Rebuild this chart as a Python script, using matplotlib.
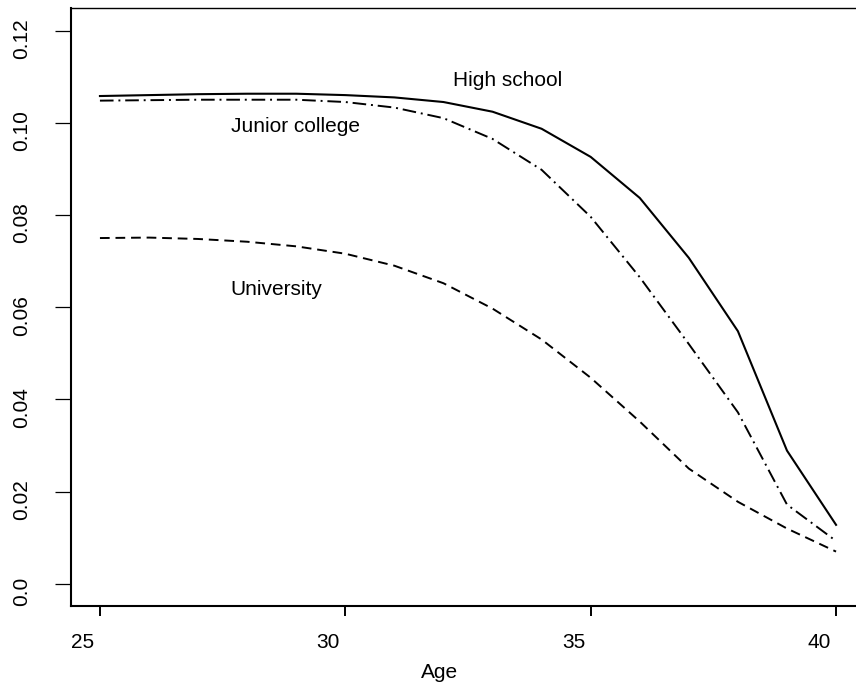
import matplotlib
matplotlib.use('Agg')
import matplotlib.pyplot as plt
from matplotlib.transforms import ScaledTranslation

plt.rcParams['font.family'] = ['Liberation Sans', 'DejaVu Sans']

age = [25, 26, 27, 28, 29, 30, 31, 32, 33, 34, 35, 36, 37, 38, 39, 40]
high_school = [0.1058, 0.1060, 0.1062, 0.1063, 0.1063, 0.1060, 0.1055, 0.1045,
               0.1024, 0.0987, 0.0926, 0.0837, 0.0707, 0.0548, 0.0289, 0.0128]
junior_college = [0.1048, 0.1049, 0.1050, 0.1050, 0.1050, 0.1045, 0.1033, 0.1010,
                  0.0965, 0.0898, 0.0796, 0.0665, 0.0520, 0.0372, 0.0172, 0.0093]
university = [0.0750, 0.0751, 0.0748, 0.0742, 0.0732, 0.0716, 0.0690, 0.0652,
              0.0597, 0.0530, 0.0447, 0.0352, 0.0250, 0.0178, 0.0120, 0.0070]

xticks = [25, 30, 35, 40]
yticks = [0.0, 0.02, 0.04, 0.06, 0.08, 0.10, 0.12]
ytick_labels = ['0.0', '0.02', '0.04', '0.06', '0.08', '0.10', '0.12']

W, H = 856, 687
fig = plt.figure(figsize=(W / 100, H / 100), dpi=100)
ax = fig.add_axes([70.5 / W, (H - 606) / H, 795 / W, 598.5 / H])

ax.plot(age, high_school, color='black', lw=1.5, ls='-')
ax.plot(age, junior_college, color='black', lw=1.4, ls=(0, (7, 2.5, 1, 2.5)))
ax.plot(age, university, color='black', lw=1.4, ls=(0, (5, 3)))

ax.text(33.31, 0.1091, 'High school', ha='center', va='center', fontsize=15)
ax.text(28.99, 0.0991, 'Junior college', ha='center', va='center', fontsize=15)
ax.text(28.60, 0.0638, 'University', ha='center', va='center', fontsize=15)

ax.set_xlim(24.4, 40.6)
ax.set_ylim(-0.0048, 0.1250)
ax.set_xticks(xticks)
ax.set_xticklabels([str(t) for t in xticks])
ax.set_yticks(yticks)
ax.set_yticklabels(ytick_labels, rotation=90, va='center', ha='right')
ax.tick_params(axis='x', direction='out', length=7.2, width=1.4, labelsize=15, pad=12)
ax.tick_params(axis='y', direction='out', length=11.5, width=0.9, labelsize=15, pad=17)

# text layer in the reference sits a little left / below the axis marks
shift_x = ScaledTranslation(-17 / 100, 0, fig.dpi_scale_trans)
shift_y = ScaledTranslation(0, -8 / 100, fig.dpi_scale_trans)
for lab in ax.get_xticklabels():
    lab.set_transform(lab.get_transform() + shift_x)
for lab in ax.get_yticklabels():
    lab.set_transform(lab.get_transform() + shift_y)

fig.text(440 / W, (H - 678) / H, 'Age', ha='center', va='baseline', fontsize=15)

ax.spines['left'].set_linewidth(1.5)
ax.spines['bottom'].set_linewidth(1.5)
ax.spines['top'].set_linewidth(1.0)
ax.spines['right'].set_visible(False)

fig.savefig('out.png', dpi=100)
